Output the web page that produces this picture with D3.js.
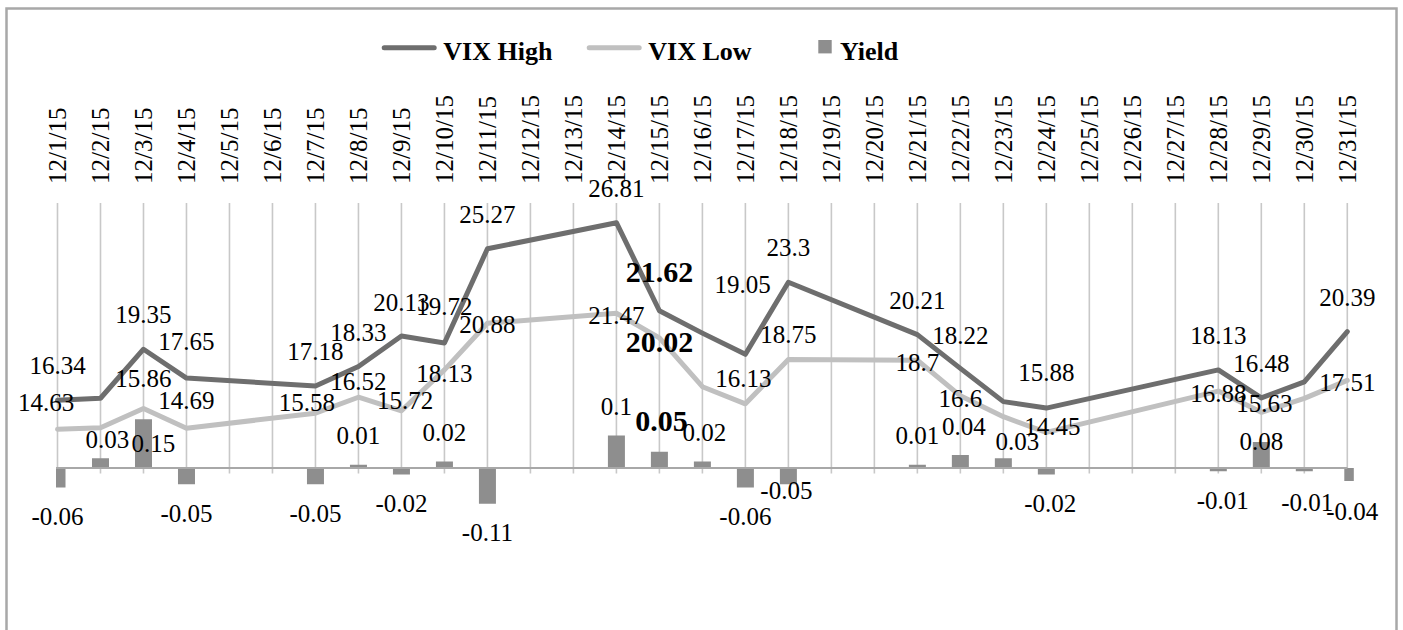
<!DOCTYPE html>
<html>
<head>
<meta charset="utf-8">
<script src="https://cdn.jsdelivr.net/npm/d3@7"></script>
<style>
  html, body { margin: 0; padding: 0; background: #fff; }
  svg { display: block; }
</style>
</head>
<body>
<svg id="chart" width="1403" height="630"></svg>
<script>
// ---------- data ----------
const dates = ['12/1/15','12/2/15','12/3/15','12/4/15','12/5/15','12/6/15','12/7/15','12/8/15','12/9/15','12/10/15',
  '12/11/15','12/12/15','12/13/15','12/14/15','12/15/15','12/16/15','12/17/15','12/18/15','12/19/15','12/20/15',
  '12/21/15','12/22/15','12/23/15','12/24/15','12/25/15','12/26/15','12/27/15','12/28/15','12/29/15','12/30/15','12/31/15'];
const vixHigh = [16.34, 16.46, 19.35, 17.65, null, null, 17.18, 18.33, 20.13, 19.72,
  25.27, null, null, 26.81, 21.62, 20.3, 19.05, 23.3, null, null,
  20.21, 18.22, 16.26, 15.88, null, null, null, 18.13, 16.48, 17.43, 20.39];
const vixLow = [14.63, 14.72, 15.86, 14.69, null, null, 15.58, 16.52, 15.72, 18.13,
  20.88, null, null, 21.47, 20.02, 17.14, 16.13, 18.75, null, null,
  18.7, 16.6, 15.37, 14.45, null, null, null, 16.88, 15.63, 16.45, 17.51];
const yieldVals = [-0.06, 0.03, 0.15, -0.05, null, null, -0.05, 0.01, -0.02, 0.02,
  -0.11, null, null, 0.1, 0.05, 0.02, -0.06, -0.05, null, null,
  0.01, 0.04, 0.03, -0.02, null, null, null, -0.01, 0.08, -0.01, -0.04];
const seriesNames = ['VIX High', 'VIX Low', 'Yield'];
const unlabeledLineDays = ['12/2/15', '12/16/15', '12/23/15', '12/30/15'];
const boldDay = '12/15/15';

// ---------- label nudges (placement only) ----------
const highLabelNudge = { '12/4/15': [0, -28], '12/9/15': [0, -25], '12/10/15': [0, -27.5], '12/15/15': [0, -28.7],
  '12/17/15': [-2.7, -61.7], '12/22/15': [0, -24.4], '12/24/15': [0, -27.5] };
const lowLabelNudge = { '12/1/15': [-11.5, -18.6], '12/3/15': [0, -21.3], '12/4/15': [0, -19], '12/7/15': [-8.5, -2.3],
  '12/8/15': [0, -7.4], '12/9/15': [3.7, -1.6], '12/10/15': [0, 11.8], '12/11/15': [0, 9.3], '12/14/15': [0, 10.7],
  '12/15/15': [0, 13.8], '12/17/15': [-2, -17.3], '12/18/15': [0, -16], '12/24/15': [6, 2.7], '12/29/15': [3, -0.6] };
const barLabelNudge = { '12/2/15': [7, 10.3], '12/3/15': [10, 53], '12/15/15': [2, 0], '12/16/15': [2, 0],
  '12/18/15': [-2, -22.5], '12/22/15': [3.5, 0], '12/23/15': [14, 12.3], '12/24/15': [4, 0], '12/28/15': [4.5, 0],
  '12/29/15': [0, 28.5], '12/30/15': [3, 2], '12/31/15': [5, 1.5] };

// ---------- styles ----------
const cHigh = '#6e6e6e', cLow = '#c0c0c0', cBar = '#8e8e8e';
const FONT = 'Liberation Serif';

const svg = d3.select('#chart');

// frame
svg.append('rect').attr('x', 6.5).attr('y', 8.5).attr('width', 1390).attr('height', 650)
  .attr('fill', 'none').attr('stroke', '#a8a8a8').attr('stroke-width', 2.5);

// scales
const x = d3.scalePoint().domain(dates).range([57.5, 1347.3]);
const y = d3.scaleLinear().domain([0, 30]).range([677.4, 168.6]);
const y2 = d3.scaleLinear().domain([-0.2, 0.2]).range([533, 403]);

// vertical gridlines
svg.append('g').selectAll('line').data(dates).join('line')
  .attr('x1', d => x(d)).attr('x2', d => x(d))
  .attr('y1', 203).attr('y2', 473.5)
  .attr('stroke', '#c8c8c8').attr('stroke-width', 1.6);

// category labels (top, rotated)
const xAxis = d3.axisTop(x).tickSize(0).tickPadding(0);
const gx = svg.append('g').attr('transform', 'translate(0,184)').call(xAxis)
  .attr('font-family', FONT).attr('font-size', 25);
gx.select('.domain').remove();
gx.selectAll('text')
  .attr('transform', 'rotate(-90)')
  .attr('x', 0).attr('y', 0).attr('dy', '0.33em')
  .attr('font-family', FONT).attr('font-size', 25)
  .style('font-family', FONT)
  .style('text-anchor', 'start')
  .attr('fill', '#000');

// bars
const barW = 17;
const barData = dates.map((d, i) => ({ d, i, v: yieldVals[i] })).filter(o => o.v !== null);
const lastI = dates.length - 1;
svg.append('g').selectAll('rect').data(barData).join('rect')
  .attr('x', o => o.i === 0 ? x(o.d) - 1.5 : (o.i === lastI ? x(o.d) - 3 : x(o.d) - barW / 2))
  .attr('width', o => (o.i === 0 || o.i === lastI) ? 9.5 : barW)
  .attr('y', o => Math.min(y2(o.v), y2(0)))
  .attr('height', o => Math.abs(y2(o.v) - y2(0)))
  .attr('fill', cBar);

// zero axis line
svg.append('line').attr('x1', x(dates[0]) - 1.5).attr('x2', x(dates[lastI]))
  .attr('y1', y2(0)).attr('y2', y2(0)).attr('stroke', '#a8a8a8').attr('stroke-width', 2);

// lines
function seriesPts(vals) {
  return dates.map((d, i) => ({ d, i, v: vals[i] })).filter(o => o.v !== null);
}
const lineGen = d3.line().x(o => x(o.d)).y(o => y(o.v));
const highPts = seriesPts(vixHigh), lowPts = seriesPts(vixLow);
svg.append('path').datum(lowPts).attr('d', lineGen).attr('fill', 'none')
  .attr('stroke', cLow).attr('stroke-width', 5).attr('stroke-linejoin', 'round').attr('stroke-linecap', 'round');
svg.append('path').datum(highPts).attr('d', lineGen).attr('fill', 'none')
  .attr('stroke', cHigh).attr('stroke-width', 5).attr('stroke-linejoin', 'round').attr('stroke-linecap', 'round');

// labels
const fmt = v => String(v);
function styleLabel(sel) {
  sel.attr('text-anchor', 'middle')
    .attr('font-family', FONT)
    .style('font-family', FONT)
    .attr('fill', '#000')
    .style('font-size', o => o.d === boldDay ? '30px' : '25px')
    .style('font-weight', o => o.d === boldDay ? 'bold' : 'normal');
}
const lblG = svg.append('g');
lblG.selectAll('text.bar').data(barData).join('text').attr('class', 'bar')
  .attr('x', o => x(o.d) + (barLabelNudge[o.d] ? barLabelNudge[o.d][0] : 0))
  .attr('y', o => (o.v >= 0 ? y2(o.v) - 20.5 : y2(o.v) + 37.5) + (barLabelNudge[o.d] ? barLabelNudge[o.d][1] : 0))
  .text(o => fmt(o.v)).call(styleLabel);

lblG.selectAll('text.low').data(lowPts.filter(o => !unlabeledLineDays.includes(o.d))).join('text').attr('class', 'low')
  .attr('x', o => x(o.d) + (lowLabelNudge[o.d] ? lowLabelNudge[o.d][0] : 0))
  .attr('y', o => y(o.v) + (lowLabelNudge[o.d] ? lowLabelNudge[o.d][1] : 11))
  .text(o => fmt(o.v)).call(styleLabel);

lblG.selectAll('text.high').data(highPts.filter(o => !unlabeledLineDays.includes(o.d))).join('text').attr('class', 'high')
  .attr('x', o => x(o.d) + (highLabelNudge[o.d] ? highLabelNudge[o.d][0] : 0))
  .attr('y', o => y(o.v) + (highLabelNudge[o.d] ? highLabelNudge[o.d][1] : -26))
  .text(o => fmt(o.v)).call(styleLabel);

// legend
const leg = svg.append('g');
const legItems = [
  { name: seriesNames[0], type: 'line', color: cHigh, x0: 381.7, tx: 443.3 },
  { name: seriesNames[1], type: 'line', color: cLow, x0: 586.7, tx: 648.3 },
  { name: seriesNames[2], type: 'rect', color: cBar, x0: 818.3, tx: 840 }
];
legItems.forEach(it => {
  if (it.type === 'line') {
    leg.append('line').attr('x1', it.x0 + 2.5).attr('x2', it.x0 + 52.5).attr('y1', 47.7).attr('y2', 47.7)
      .attr('stroke', it.color).attr('stroke-width', 5).attr('stroke-linecap', 'round');
  } else {
    leg.append('rect').attr('x', it.x0).attr('y', 40).attr('width', 13.4).attr('height', 13.4).attr('fill', it.color);
  }
  leg.append('text').attr('x', it.tx).attr('y', 60).text(it.name)
    .attr('font-family', FONT).style('font-family', FONT).attr('fill', '#000')
    .style('font-size', '26px').style('font-weight', 'bold');
});
</script>
</body>
</html>
